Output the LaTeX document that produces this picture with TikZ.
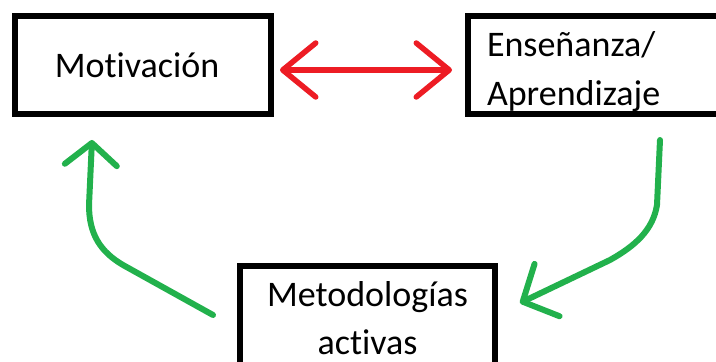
\documentclass[tikz,border=0pt]{standalone}
\usepackage{fontspec}
\setmainfont{Carlito}[Ligatures=CommonOff]
\usetikzlibrary{calc}
\usetikzlibrary{arrows.meta}
\definecolor{rojo}{RGB}{237,28,36}
\definecolor{verde}{RGB}{34,177,76}
\tikzset{
  caja/.style={draw, line width=6pt, font=\fontsize{36}{44}\selectfont, inner sep=0pt},
  flecharoja/.style={rojo, line width=5.5pt, line cap=round,
    {Straight Barb[round,length=33pt,width=54pt]}-{Straight Barb[round,length=33pt,width=54pt]}},
  flechaverde/.style={verde, line width=6pt, line cap=round, line join=round}
}

\begin{document}
\begin{tikzpicture}[x=1pt,y=-1pt]
  \useasboundingbox (0,0) rectangle (716,362);
  % cajas
  \node[caja, minimum width=256pt, minimum height=98pt] (mot) at (143,65) {Motivación\hspace*{12pt}};
  \node[caja, anchor=west, minimum height=98pt, text width=240pt, align=left,
        inner xsep=19pt, text depth=43pt] (ense) at (465,65) {Enseñanza/\\[5pt]Aprendizaje};
  \node[caja, anchor=north, minimum width=255pt, align=center, inner ysep=15pt,
        text depth=60pt] (metod) at (367.5,263) {Metodologías\\[4pt]activas};
  % flecha roja
  \draw[flecharoja, shorten <=6pt, shorten >=13pt] ([yshift=-5pt]mot.east) -- ([yshift=-5pt]ense.west);
  % flechas verdes
  \coordinate (a1) at ($(metod.north west)+(-24,52)$);
  \coordinate (a2) at ($(mot.south west)+(80,23)$);
  \draw[flechaverde, -{Straight Barb[round,length=22pt,width=52pt]}]
    (a1) -- ++(-90,-50) .. controls +(-22,-13) and +(0,30) .. ++(-34,-60) -- (a2);
  \coordinate (b1) at ($(ense.south)+(53,23)$);
  \coordinate (b2) at ($(metod.north east)+(22,40)$);
  \draw[flechaverde, -{Straight Barb[round,length=27pt,width=58pt]}]
    (b1) -- ++(-3,65) .. controls +(-4,25) and +(25,-14) .. ++(-47,55) -- (b2);
\end{tikzpicture}
\end{document}
